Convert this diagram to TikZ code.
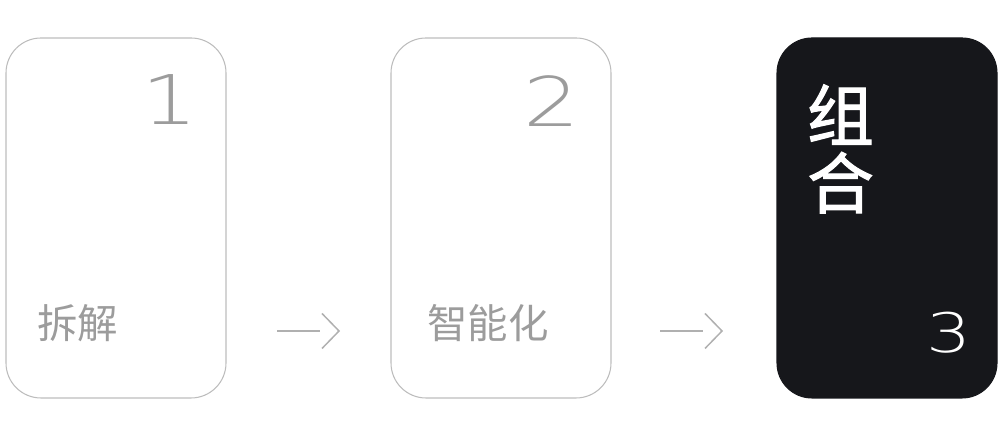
\documentclass[tikz,border=0pt]{standalone}
\usepackage{fontspec}
\newfontfamily\cjk{Noto Sans CJK SC}
\newfontfamily\cjkmid[FakeBold=1.6]{Noto Sans CJK SC}
\newfontfamily\numfont[FakeStretch=1.3]{DejaVu Sans ExtraLight}
\usetikzlibrary{positioning, calc}
\definecolor{cardline}{HTML}{BDBDBD}
\definecolor{labelgray}{HTML}{9C9C9C}
\definecolor{darkcard}{HTML}{16171B}

\begin{document}
\begin{tikzpicture}[
    card/.style={rectangle, rounded corners=0.7cm, draw=cardline, line width=0.6pt, fill=white, minimum width=4.4cm, minimum height=7.2cm, inner sep=0pt},
    darkc/.style={card, draw=darkcard, fill=darkcard},
    label/.style={font=\cjk\fontsize{23}{23}\selectfont, text=labelgray, inner sep=0pt},
    num/.style={font=\numfont\fontsize{39}{39}\selectfont, text=labelgray, inner sep=0pt},
    flow/.style={draw=labelgray!80, line width=0.85pt}
]
\useasboundingbox (0,0) rectangle (20,8.7);
% cards
\node[card] (c1) at (2.32,4.34) {};
\node[card] (c2) at (10.02,4.34) {};
\node[darkc] (c3) at (17.74,4.34) {};
% numbers
\node[num] (n1) at (3.4,6.7) {1};
\node[num] (n2) at (11.04,6.68) {2};
\node[num, text=white, font=\numfont\fontsize{31}{31}\selectfont] (n3) at (18.98,2.05) {3};
% labels
\node[label, anchor=west] (l1) at (0.74,2.23) {拆解};
\node[label, anchor=west] (l2) at (8.54,2.23) {智能化};
\node[align=center, text=white, font=\cjkmid\fontsize{38}{38.5}\selectfont, inner sep=0pt] (l3) at (16.81,5.72) {组\\合};
% arrows
\coordinate (a1s) at (5.54,2.08);
\coordinate (a1m) at (6.40,2.08);
\coordinate (a1e) at (6.78,2.08);
\coordinate (a2s) at (13.20,2.08);
\coordinate (a2m) at (14.06,2.08);
\coordinate (a2e) at (14.44,2.08);
\foreach \a in {a1,a2}{
  \draw[flow] (\a s) -- (\a m);
  \draw[flow] ($(\a e)+(-0.34,0.35)$) -- (\a e) -- ($(\a e)+(-0.34,-0.35)$);
}
\end{tikzpicture}
\end{document}
